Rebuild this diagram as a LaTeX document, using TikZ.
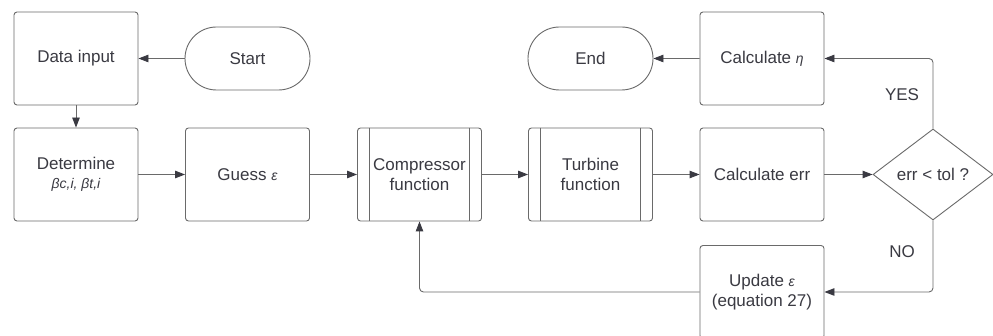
\documentclass[tikz,border=0pt]{standalone}
\usepackage{fontspec}
\setmainfont{Liberation Sans}
\usetikzlibrary{shapes.geometric,shapes.misc,arrows.meta}
\definecolor{linegray}{HTML}{6A6A6A}
\definecolor{inkgray}{HTML}{3A3A42}
\newcommand{\gk}[1]{{\fontsize{14}{16}\selectfont\itshape #1}}
\begin{document}
\begin{tikzpicture}[x=1pt,y=-1pt,
  font=\fontsize{17}{20.5}\selectfont,
  every node/.style={text=inkgray},
  procbox/.style={draw=linegray, line width=0.9pt, rounded corners=3pt,
    minimum width=124pt, minimum height=93pt, inner sep=0pt, align=center},
  subproc/.style={procbox, append after command={
    \pgfextra{\draw[linegray, line width=0.9pt]
      ([xshift=12.5pt]\tikzlastnode.north west) -- ([xshift=12.5pt]\tikzlastnode.south west)
      ([xshift=-12.5pt]\tikzlastnode.north east) -- ([xshift=-12.5pt]\tikzlastnode.south east);}}},
  terminal/.style={draw=linegray, line width=0.9pt, rounded rectangle,
    minimum width=125pt, minimum height=63pt, inner sep=0pt},
  decision/.style={draw=linegray, line width=0.9pt, diamond,
    minimum width=120pt, minimum height=91pt, inner sep=0pt},
  flow/.style={draw=linegray, line width=0.9pt, rounded corners=4pt,
    -{Triangle[length=10pt,width=7.5pt,color=inkgray]}},
  lbl/.style={text=inkgray}]
\clip (0,0) rectangle (993,336);
\fill[white] (0,0) rectangle (993,336);

% first row
\node[procbox] (data) at (76,58.5) {Data input};
\node[terminal] (start) at (247.5,58.5) {Start};
\node[terminal] (finish) at (590.5,58.5) {End};
\node[procbox] (eta) at (762,58.5) {Calculate \gk{η}};

% second row
\node[procbox] (determine) at (76,174.5) {Determine\\[-2pt]\gk{βc,i, βt,i}};
\node[procbox] (guess) at (247.5,174.5) {Guess \gk{ε}};
\node[subproc] (comp) at (419.5,174.5) {Compressor\\function};
\node[subproc] (turb) at (590.5,174.5) {Turbine\\function};
\node[procbox] (err) at (762,174.5) {Calculate err};
\node[decision] (check) at (933,174.5) {err < tol ?};

% third row
\node[procbox] (update) at (762,292) {Update \gk{ε}\\(equation 27)};

% connectors
\draw[flow] (start) -- (data);
\draw[flow] (data) -- (determine);
\draw[flow] (determine) -- (guess);
\draw[flow] (guess) -- (comp);
\draw[flow] (comp) -- (turb);
\draw[flow] (turb) -- (err);
\draw[flow] (err) -- (check);
\draw[flow] (check.north) |- (eta.east);
\draw[flow] (eta) -- (finish);
\draw[flow] (check.south) |- (update.east);
\draw[flow] (update.west) -| (comp.south);

% branch labels
\node[lbl] (yes) at (902,95) {YES};
\node[lbl] (no) at (902,252) {NO};
\end{tikzpicture}
\end{document}
